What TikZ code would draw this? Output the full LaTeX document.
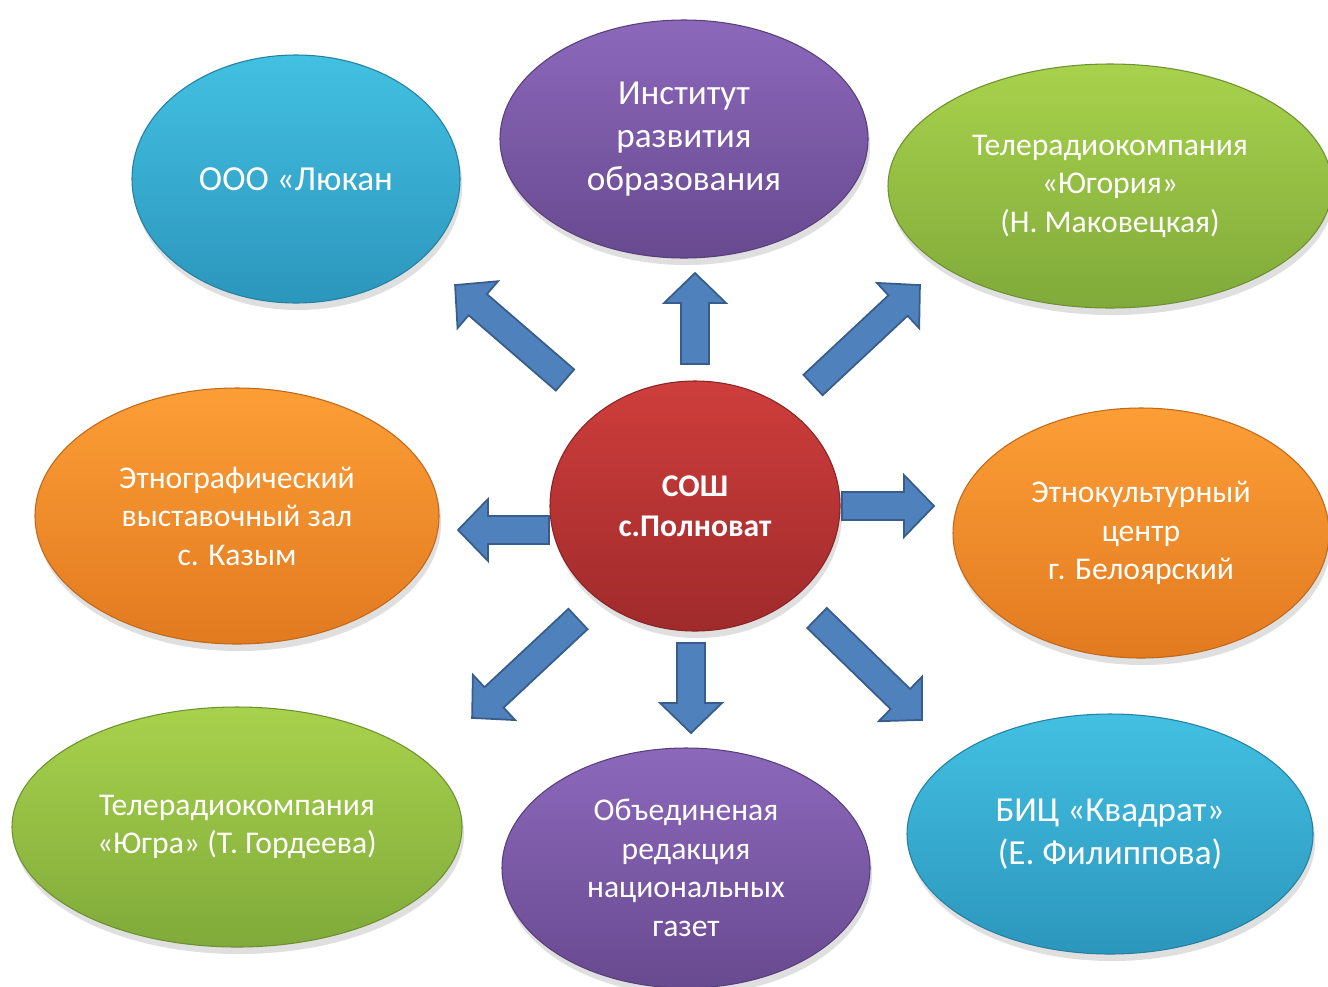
\documentclass[tikz,border=0pt]{standalone}
\usepackage{fontspec}
\setmainfont{Carlito}
\usetikzlibrary{shapes.geometric}
\usetikzlibrary{shadows}
\usetikzlibrary{calc}

\definecolor{cyantop}{RGB}{66,192,226}
\definecolor{cyanbot}{RGB}{44,150,188}
\definecolor{violettop}{RGB}{140,104,187}
\definecolor{violetbot}{RGB}{104,74,144}
\definecolor{greentop}{RGB}{168,210,76}
\definecolor{greenbot}{RGB}{128,170,58}
\definecolor{orangetop}{RGB}{252,158,54}
\definecolor{orangebot}{RGB}{226,122,32}
\definecolor{redtop}{RGB}{206,62,60}
\definecolor{redbot}{RGB}{160,42,43}
\definecolor{arrowfill}{RGB}{79,129,189}
\definecolor{arrowline}{RGB}{56,93,138}

% block arrow from tail #1 to tip #2 (sizes in pt)
\newcommand{\blockarrow}[2]{%
  \path[fill=arrowfill, draw=arrowline, line width=0.5pt, line join=miter]
    let \p1=($(#2)-(#1)$), \n1={atan2(\y1,\x1)}, \n2={veclen(\x1,\y1)} in
    [shift={(#1)}, rotate=\n1]
    (0pt,-3.98pt) -- ({\n2-8.54pt},-3.98pt) -- ({\n2-8.54pt},-8.82pt) -- (\n2,0pt)
    -- ({\n2-8.54pt},8.82pt) -- ({\n2-8.54pt},3.98pt) -- (0pt,3.98pt) -- cycle;}

\begin{document}
\begin{tikzpicture}[bubble/.style={ellipse, inner sep=0pt, align=center, text=white,
      draw=#1bot!85!black, line width=0.3pt, top color=#1top, bottom color=#1bot,
      drop shadow={opacity=0.25, shadow xshift=0.6pt, shadow yshift=-2pt}},
    txt/.style={font=\fontsize{9}{10.95}\selectfont},
    bigtxt/.style={font=\fontsize{10}{12.2}\selectfont}]
    \path[use as bounding box, fill=white] (0,0) rectangle (13.28,9.86);
    \node [bubble=red, minimum width=2.90cm, minimum height=2.50cm, font=\fontsize{9}{11.4}\selectfont\bfseries] (sosh) at (6.95,4.80) {СОШ\\с.Полноват};
    \node [bubble=cyan, bigtxt, minimum width=3.28cm, minimum height=2.48cm] (lukan) at (2.96,8.07) {ООО «Люкан};
    \node [bubble=violet, bigtxt, minimum width=3.68cm, minimum height=2.38cm] (iro) at (6.84,8.47) {Институт\\развития\\образования};
    \node [bubble=green, txt, minimum width=4.44cm, minimum height=2.44cm] (yugoria) at (11.10,8.00) {Телерадиокомпания\\«Югория»\\(Н. Маковецкая)};
    \node [bubble=orange, txt, minimum width=4.04cm, minimum height=2.56cm] (kazym) at (2.37,4.70) {Этнографический\\выставочный зал\\с. Казым};
    \node [bubble=orange, txt, minimum width=3.76cm, minimum height=2.50cm] (etnocentr) at (11.41,4.53) {Этнокультурный\\центр\\г. Белоярский};
    \node [bubble=green, txt, minimum width=4.50cm, minimum height=2.40cm] (yugra) at (2.37,1.59) {Телерадиокомпания\\«Югра» (Т. Гордеева)};
    \node [bubble=violet, txt, minimum width=3.68cm, minimum height=2.40cm] (redakcia) at (6.86,1.18) {Объединеная\\редакция\\национальных\\газет};
    \node [bubble=cyan, bigtxt, minimum width=4.06cm, minimum height=2.40cm] (bic) at (11.10,1.52) {БИЦ «Квадрат»\\(Е. Филиппова)};
    % arrow ends
    \coordinate (tN) at (6.95,6.22);  \coordinate (hN) at (6.95,7.13);
    \coordinate (tS) at (6.91,3.43);  \coordinate (hS) at (6.91,2.53);
    \coordinate (tE) at (8.42,4.80);  \coordinate (hE) at (9.34,4.80);
    \coordinate (tW) at (5.49,4.56);  \coordinate (hW) at (4.58,4.56);
    \coordinate (tNW) at (5.65,6.06); \coordinate (hNW) at (4.55,7.01);
    \coordinate (tNE) at (8.13,6.01); \coordinate (hNE) at (9.20,7.01);
    \coordinate (tSW) at (5.78,3.67); \coordinate (hSW) at (4.72,2.68);
    \coordinate (tSE) at (8.17,3.68); \coordinate (hSE) at (9.22,2.66);
    \foreach \d in {N,S,E,W,NW,NE,SW,SE}
      \blockarrow{t\d}{h\d};
\end{tikzpicture}
\end{document}
